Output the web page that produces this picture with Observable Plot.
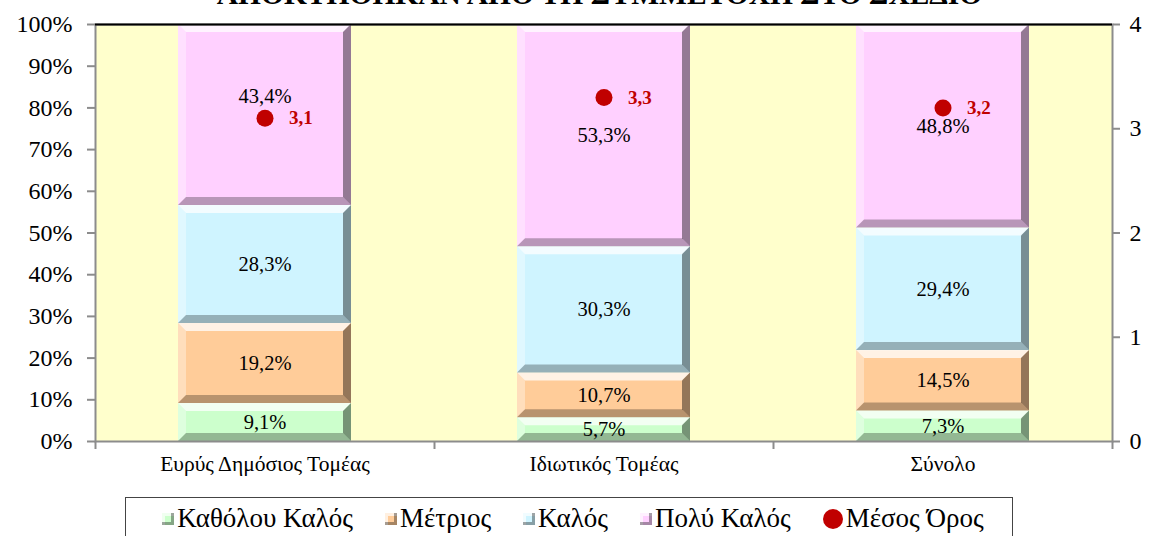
<!DOCTYPE html>
<html>
<head>
<meta charset="utf-8">
<script src="https://cdn.jsdelivr.net/npm/d3@7"></script>
<script src="https://cdn.jsdelivr.net/npm/@observablehq/plot@0.6"></script>
<style>
  html, body { margin: 0; padding: 0; background: #fff; width: 1149px; height: 536px; overflow: hidden; position: relative; font-family: "Liberation Serif", "Times New Roman", serif; }
  #title { position: absolute; left: 25px; top: -20px; width: 1149px; text-align: center; font-weight: bold; font-size: 29.5px; line-height: 1; color: #000; white-space: nowrap; }
  #chart { position: absolute; left: 0; top: 0; }
  #legend { position: absolute; left: 125px; top: 497px; width: 888px; height: 50px; border: 1px solid #444; box-sizing: border-box; display: flex; align-items: flex-start; justify-content: center; padding-top: 6px; padding-left: 8px; font-size: 27px; line-height: 1.1; color: #000; }
  .item { display: flex; align-items: center; margin: 0 16px; white-space: nowrap; }
  .sw { width: 12px; height: 12px; margin-right: 3px; box-sizing: border-box; box-shadow: inset -3px -3px 0 rgba(0,0,0,0.35), inset 3px 3px 0 rgba(255,255,255,0.7); }
  .dotsw { width: 20px; height: 20px; border-radius: 50%; background: #C00000; margin-right: 3px; }
</style>
</head>
<body>
<div id="title">ΑΠΟΚΤΗΘΗΚΑΝ ΑΠΟ ΤΗ ΣΥΜΜΕΤΟΧΗ ΣΤΟ ΣΧΕΔΙΟ</div>
<div id="chart"></div>
<div id="legend"></div>
<script>
// ---- data ----
const categories = ["Ευρύς Δημόσιος Τομέας", "Ιδιωτικός Τομέας", "Σύνολο"];
const levels = ["Καθόλου Καλός", "Μέτριος", "Καλός", "Πολύ Καλός"];
const katholouKalos = [9.1, 5.7, 7.3];
const metrios = [19.2, 10.7, 14.5];
const kalos = [28.3, 30.3, 29.4];
const polyKalos = [43.4, 53.3, 48.8];
const mesosOros = [3.1, 3.3, 3.2];
const meanLabel = "Μέσος Όρος";
const leftTicks = [0, 10, 20, 30, 40, 50, 60, 70, 80, 90, 100];
const rightTicks = [0, 1, 2, 3, 4];

const colors = ["#CCFFCC", "#FFCC99", "#CFF4FF", "#FFD0FF"];
const series = [katholouKalos, metrios, kalos, polyKalos];

// build stacked rows
const rows = [];
categories.forEach((cat, ci) => {
  let acc = 0;
  series.forEach((vals, li) => {
    const v = vals[ci];
    rows.push({cat, level: levels[li], value: v, y1: acc, y2: acc + v, ci, li});
    acc += v;
  });
});
const meanRows = categories.map((cat, i) => ({cat, mean: mesosOros[i]}));
const fmt = v => v.toFixed(1).replace(".", ",");

const W = 1149, H = 490;
const mL = 95, mR = 37, mT = 24, mB = 49;
const pin = 0.49, pout = 0.245;
const step = (W - mL - mR) / (categories.length - pin + 2 * pout);
const serif = "Liberation Serif";

const isShifted = d => d.ci === 0 && d.li === 3;

const plot = Plot.plot({
  width: W, height: H,
  marginLeft: mL, marginRight: mR, marginTop: mT, marginBottom: mB,
  style: {fontFamily: serif, background: "transparent", color: "#000"},
  x: {domain: categories, paddingInner: pin, paddingOuter: pout, axis: null},
  y: {domain: [0, 100], axis: null},
  color: {domain: levels, range: colors},
  marks: [
    Plot.frame({fill: "#FFFFCC", stroke: null}),
    Plot.rectY(rows, {x: "cat", y1: "y1", y2: "y2", fill: "level"}),
    Plot.frame({stroke: "#8c8c8c", strokeWidth: 2}),
    Plot.ruleY([100], {stroke: "#000", strokeWidth: 2}),
    // category boundary ticks
    Plot.ruleX(categories, {x: d => d, y1: 0, y2: 0, dx: -step / 2, insetBottom: -8, stroke: "#8c8c8c", strokeWidth: 2}),
    Plot.ruleX(categories.slice(-1), {x: d => d, y1: 0, y2: 0, dx: step / 2, insetBottom: -8, stroke: "#8c8c8c", strokeWidth: 2}),
    Plot.axisY({ticks: leftTicks, tickFormat: d => d + "%", tickSize: 8, tickPadding: 15, fontSize: 24, stroke: "#8c8c8c", strokeWidth: 2, anchor: "left", label: null}),
    Plot.axisY({ticks: rightTicks.map(t => t * 25), tickFormat: d => String(d / 25), tickSize: 7, tickPadding: 10, fontSize: 24, stroke: "#8c8c8c", strokeWidth: 2, anchor: "right", label: null}),
    Plot.axisX({tickSize: 0, tickPadding: 14, fontSize: 21.5, anchor: "bottom", label: null}),
    Plot.text(rows.filter(d => !isShifted(d)), {x: "cat", y: d => (d.y1 + d.y2) / 2, text: d => fmt(d.value) + "%", fontSize: 20.5, fill: "#000"}),
    Plot.text(rows.filter(isShifted), {x: "cat", y: d => (d.y1 + d.y2) / 2, text: d => fmt(d.value) + "%", fontSize: 20.5, fill: "#000", dy: -19}),
    Plot.dot(meanRows, {x: "cat", y: d => d.mean * 25, r: 8.5, fill: "#C00000", stroke: null}),
    Plot.text(meanRows, {x: "cat", y: d => d.mean * 25, text: d => fmt(d.mean), dx: 24, textAnchor: "start", fontSize: 19, fontWeight: "bold", fill: "#C00000"})
  ]
});
document.getElementById("chart").appendChild(plot);

// bevel decoration on bar rects
const svg = d3.select(plot);
svg.selectAll('g[aria-label="rect"] rect').each(function() {
  const r = d3.select(this);
  const x = +r.attr("x"), y = +r.attr("y"), w = +r.attr("width"), h = +r.attr("height");
  const b = Math.min(8, h / 2, w / 2);
  const g = d3.select(this.parentNode);
  const poly = (pts, fill) => g.append("polygon").attr("points", pts.map(p => p.join(",")).join(" ")).attr("fill", fill);
  poly([[x, y], [x + w, y], [x + w - b, y + b], [x + b, y + b]], "rgba(255,255,255,0.75)");
  poly([[x, y], [x + b, y + b], [x + b, y + h - b], [x, y + h]], "rgba(255,255,255,0.35)");
  poly([[x + w, y], [x + w, y + h], [x + w - b, y + h - b], [x + w - b, y + b]], "rgba(0,0,0,0.42)");
  poly([[x, y + h], [x + w, y + h], [x + w - b, y + h - b], [x + b, y + h - b]], "rgba(0,0,0,0.28)");
});

// legend
const legend = d3.select("#legend");
levels.forEach((l, i) => {
  const it = legend.append("div").attr("class", "item");
  it.append("div").attr("class", "sw").style("background", colors[i]);
  it.append("span").text(l);
});
const mi = legend.append("div").attr("class", "item");
mi.append("div").attr("class", "dotsw");
mi.append("span").text(meanLabel);
</script>
</body>
</html>
